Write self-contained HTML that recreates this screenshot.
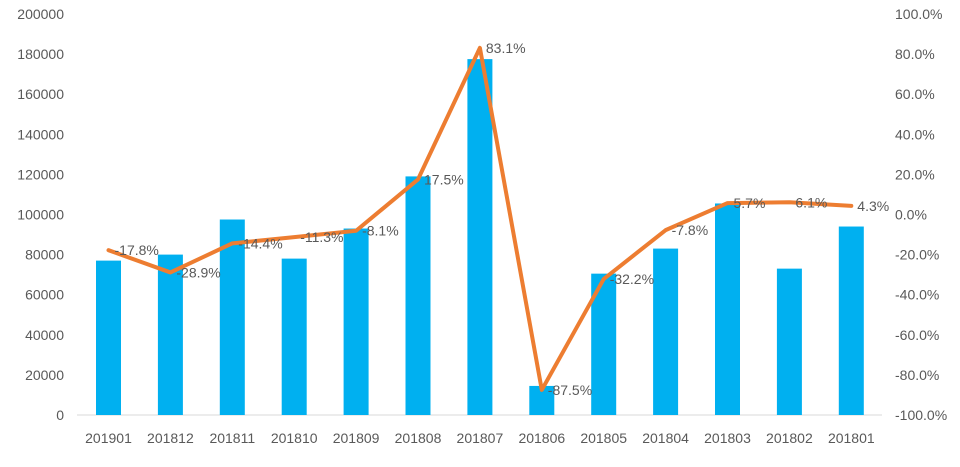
<!DOCTYPE html>
<html><head><meta charset="utf-8"><style>
body{margin:0;background:#fff;}
text{font-family:"Liberation Sans",sans-serif;font-size:14px;fill:#595959;}
</style></head><body>
<svg id="s" width="960" height="462" xmlns="http://www.w3.org/2000/svg"></svg>
<script>
const s=document.getElementById('s');
let h='';
const cats=['201901','201812','201811','201810','201809','201808','201807','201806','201805','201804','201803','201802','201801'];
const bars=[77000,80000,97500,78000,93000,119000,177500,14500,70500,83000,105500,73000,94000];
const pct=[-17.8,-28.9,-14.4,-11.3,-8.1,17.5,83.1,-87.5,-32.2,-7.8,5.7,6.1,4.3];
const y0=415,yt=14,H=y0-yt;
for(let i=0;i<=10;i++){const y=y0-i*H/10;
h+=`<text x="64" y="${y+5}" text-anchor="end">${i*20000}</text>`;
h+=`<text x="895" y="${y+5}">${(-100+i*20).toFixed(1)}%</text>`;}
h+=`<line x1="77" y1="${y0}" x2="882" y2="${y0}" stroke="#d9d9d9" stroke-width="1"/>`;
const cx=i=>108.5+i*61.9;
cats.forEach((c,i)=>{const bh=bars[i]/200000*H;
h+=`<rect x="${cx(i)-12.5}" y="${y0-bh}" width="25" height="${bh}" fill="#00b0f0"/>`;
h+=`<text x="${cx(i)}" y="443" text-anchor="middle">${c}</text>`;});
const py=v=>214.5-v*H/200;
h+=`<polyline fill="none" stroke="#ed7d31" stroke-width="4" stroke-linejoin="round" stroke-linecap="round" points="${pct.map((v,i)=>cx(i)+','+py(v)).join(' ')}"/>`;
pct.forEach((v,i)=>{h+=`<text x="${cx(i)+6}" y="${py(v)+5}">${v.toFixed(1)}%</text>`;});
s.innerHTML=h;
</script>
</body></html>
